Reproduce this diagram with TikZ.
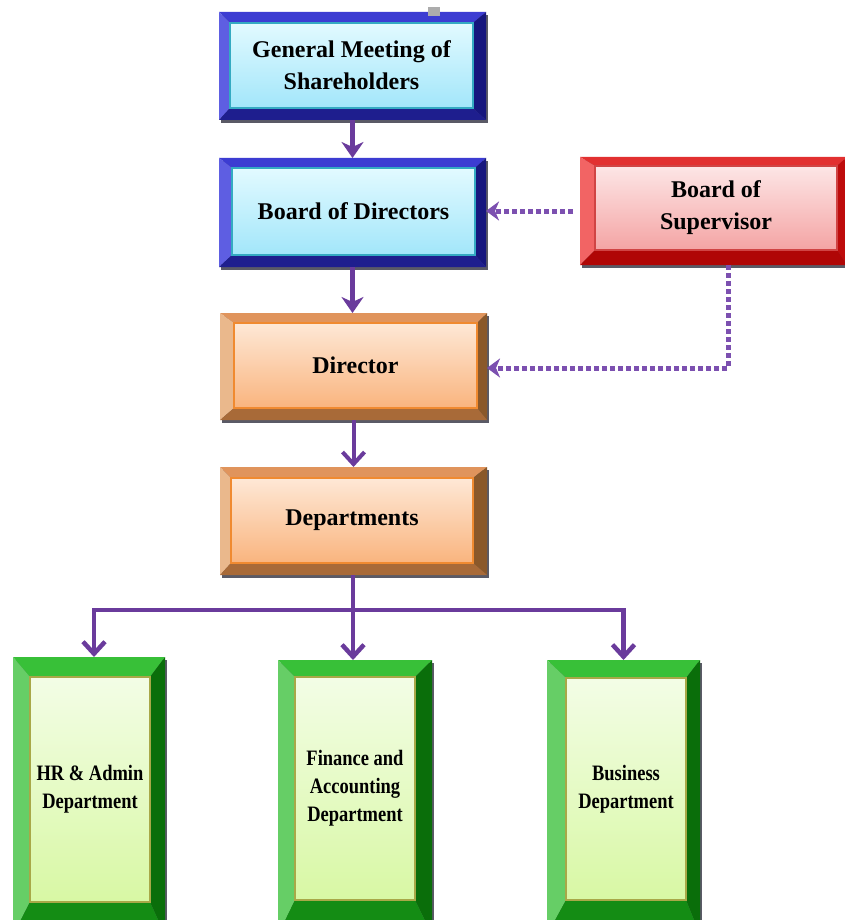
\documentclass[tikz,border=0pt]{standalone}
\usepackage{fontspec}
\setmainfont{Liberation Serif}
\newfontfamily\condfont[FakeStretch=0.84]{Liberation Serif}
\usetikzlibrary{arrows.meta,fit,calc}
% blue
\definecolor{blueT}{HTML}{3C3CD2}
\definecolor{blueL}{HTML}{5E5EE2}
\definecolor{blueR}{HTML}{16167E}
\definecolor{blueB}{HTML}{1E1E8E}
\definecolor{blueI}{HTML}{E2FAFF}
\definecolor{blueJ}{HTML}{A2E6FA}
\definecolor{blueE}{HTML}{34AAC2}
% red
\definecolor{redT}{HTML}{E23030}
\definecolor{redL}{HTML}{F26464}
\definecolor{redR}{HTML}{BE0C0C}
\definecolor{redB}{HTML}{B00606}
\definecolor{redI}{HTML}{FDE6E6}
\definecolor{redJ}{HTML}{F4A4A4}
\definecolor{redE}{HTML}{D04444}
% orange
\definecolor{orangeT}{HTML}{E0945C}
\definecolor{orangeL}{HTML}{EAB88C}
\definecolor{orangeR}{HTML}{8A582A}
\definecolor{orangeB}{HTML}{A86A38}
\definecolor{orangeI}{HTML}{FEE8D6}
\definecolor{orangeJ}{HTML}{F9B47E}
\definecolor{orangeE}{HTML}{F08A30}
% green
\definecolor{greenT}{HTML}{38C038}
\definecolor{greenL}{HTML}{66CE66}
\definecolor{greenR}{HTML}{0A6E0A}
\definecolor{greenB}{HTML}{148C14}
\definecolor{greenI}{HTML}{F3FDE6}
\definecolor{greenJ}{HTML}{D8F8A4}
\definecolor{greenE}{HTML}{A8A848}
% lines
\definecolor{flowpurple}{HTML}{6A3B9C}
\definecolor{dotpurple}{HTML}{7C50B0}
\definecolor{boxshadow}{HTML}{5A5A66}

\tikzset{
  bluetxt/.style={font=\bfseries\fontsize{24}{32}\selectfont},
  redtxt/.style={font=\bfseries\fontsize{24}{32}\selectfont},
  orangetxt/.style={font=\bfseries\fontsize{24}{32}\selectfont},
  greentxt/.style={font=\condfont\bfseries\fontsize{22}{28}\selectfont},
  solidflow/.style={draw=flowpurple, line width=4.5pt,
    -{Stealth[length=16pt,width=22pt,inset=5pt]}},
  barbflow/.style={draw=flowpurple, line width=4pt,
    -{Straight Barb[length=12pt,width=22pt]}},
  treeline/.style={draw=flowpurple, line width=4.5pt},
  treearrow/.style={draw=flowpurple, line width=4.5pt, line join=miter,
    -{Straight Barb[length=12pt,width=22pt]}},
  dotflow/.style={draw=dotpurple, line width=5pt, dash pattern=on 5pt off 3pt,
    -{Stealth[length=13pt,width=19pt,inset=4pt]}},
}

% name, colour prefix, outer top-left, outer bottom-right, inner top-left, inner bottom-right, text
\newcommand\bevbox[7]{%
  \coordinate (#1-a) at (#3);
  \coordinate (#1-b) at (#4);
  \coordinate (#1-c) at (#5);
  \coordinate (#1-d) at (#6);
  \fill[boxshadow] ([shift={(2,3)}]#1-a) rectangle ([shift={(2,3)}]#1-b);
  \fill[#2T] (#1-a) -- (#1-a -| #1-b) -- (#1-c -| #1-d) -- (#1-c) -- cycle;
  \fill[#2L] (#1-a) -- (#1-c) -- (#1-c |- #1-d) -- (#1-a |- #1-b) -- cycle;
  \fill[#2R] (#1-a -| #1-b) -- (#1-b) -- (#1-d) -- (#1-c -| #1-d) -- cycle;
  \fill[#2B] (#1-a |- #1-b) -- (#1-b) -- (#1-d) -- (#1-c |- #1-d) -- cycle;
  \path[draw=#2E, line width=1.3pt, top color=#2I, bottom color=#2J] (#1-c) rectangle (#1-d);
  \node[fit=(#1-a)(#1-b), inner sep=0pt, outer sep=0pt] (#1) {};
  \node[inner sep=0pt, align=center, #2txt] (#1-t) at ($(#1-c)!0.5!(#1-d)$) {#7};
}

\begin{document}
\begin{tikzpicture}[x=1pt,y=-1pt]
\useasboundingbox (0,0) rectangle (845,920);
\clip (0,0) rectangle (845,920);
\fill[white] (0,0) rectangle (845,920);

\bevbox{gm}{blue}{219,12}{486,120}{230,23}{473,108}{General Meeting of\\Shareholders}
\fill[gray!65] (428,7) rectangle (440,16);
\bevbox{bod}{blue}{219,158}{486,267}{232,168}{475,255}{Board of Directors}
\bevbox{bs}{red}{580,157}{847,265}{595,166}{837,250}{Board of\\Supervisor}
\bevbox{dir}{orange}{220,313}{487,420}{234,323}{477,408}{Director}
\bevbox{deps}{orange}{220,467}{487,575}{231,478}{473,563}{Departments}
\bevbox{hr}{green}{13,657}{165,935}{30,677}{150,902}{HR \& Admin\\Department}
\bevbox{fin}{green}{278,660}{432,935}{295,677}{415,900}{Finance and\\Accounting\\Department}
\bevbox{bus}{green}{547,660}{700,935}{566,678}{686,900}{Business\\Department}

% main flow
\draw[solidflow] (gm.south) -- (gm.south |- bod.north);
\draw[solidflow] (bod.south) -- (bod.south |- dir.north);
\draw[barbflow] (dir.south) -- (dir.south |- deps.north);

% tree to departments
\coordinate (split) at (353,610);
\draw[treeline] (deps.south -| split) -- (split);
\draw[treearrow] (split) -| ([xshift=5pt]hr.north);
\draw[treearrow] (split) -- (split |- fin.north);
\draw[treearrow] (split) -| (bus.north);

% supervision (dotted)
\draw[dotflow, shorten <=7pt] (bs.west) -- (bs.west -| bod.east);
\coordinate (bend) at (728,368);
\draw[dotflow] (bend |- bs.south) -- (bend) -- (bend -| dir.east);
\end{tikzpicture}
\end{document}
